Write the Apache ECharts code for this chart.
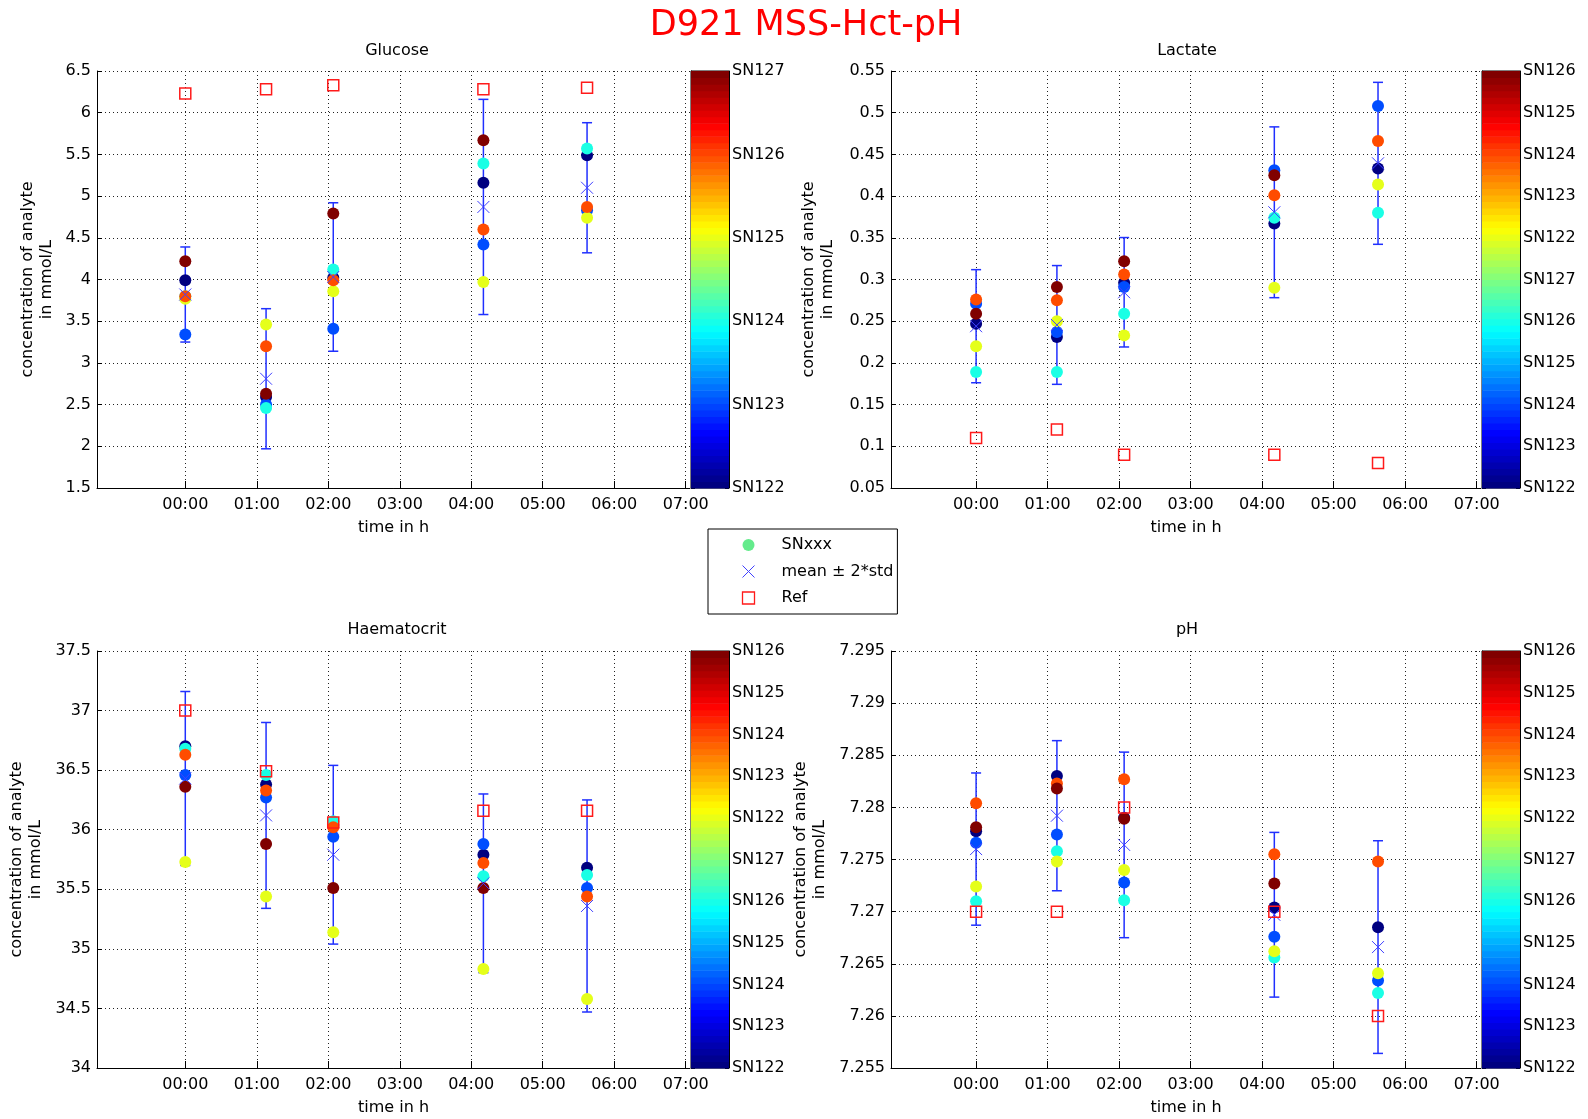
<!DOCTYPE html>
<html>
<head>
<meta charset="utf-8">
<title>D921 MSS-Hct-pH</title>
<script src="https://cdn.jsdelivr.net/npm/echarts@6/dist/echarts.min.js"></script>
<style>
  html, body { margin: 0; padding: 0; background: #fff; }
  #chart { width: 1588px; height: 1119px; }
</style>
</head>
<body>
<div id="chart"></div>
<script>
// Sample times in hours after start
const times = [0, 1.13, 2.07, 4.17, 5.62];
const hourTicks = [0, 1, 2, 3, 4, 5, 6, 7];
const sensors = ['SN122', 'SN123', 'SN124', 'SN125', 'SN126', 'SN127'];

// Rows follow `sensors`, columns follow `times`; null = no reading
const glucoseValues = [
  [3.99, 2.59, 4.02, 5.16, 5.49],
  [3.34, 2.50, 3.41, 4.42, 4.83],
  [3.80, 2.46, 4.12, 5.39, 5.57],
  [3.77, 3.46, 3.86, 3.97, 4.74],
  [3.80, 3.20, 3.99, 4.60, 4.87],
  [4.22, 2.63, 4.79, 5.67, null]
];
const glucoseRef = [6.23, 6.28, 6.33, 6.28, 6.30];
const glucoseMean = [3.82, 2.81, 4.03, 4.87, 5.10];
const glucoseTwoStd = [0.57, 0.84, 0.89, 1.29, 0.78];

const lactateValues = [
  [0.247, 0.231, 0.296, 0.367, 0.433],
  [0.271, 0.237, 0.291, 0.431, 0.508],
  [0.189, 0.189, 0.259, 0.374, 0.380],
  [0.220, 0.250, 0.233, 0.290, 0.414],
  [0.276, 0.275, 0.306, 0.401, 0.466],
  [0.259, 0.291, 0.322, 0.425, null]
];
const lactateRef = [0.11, 0.12, 0.09, 0.09, 0.08];
const lactateMean = [0.2440, 0.2455, 0.2847, 0.3806, 0.4393];
const lactateTwoStd = [0.0678, 0.0712, 0.0656, 0.1024, 0.0971];

const hctValues = [
  [36.70, 36.38, 36.04, 35.79, 35.68],
  [36.46, 36.27, 35.94, 35.88, 35.51],
  [36.68, 36.46, 36.07, 35.61, 35.62],
  [35.73, 35.44, 35.14, 34.83, 34.58],
  [36.63, 36.33, 36.02, 35.72, 35.44],
  [36.36, 35.88, 35.51, 35.51, null]
];
const hctRef = [37.00, 36.49, 36.06, 36.16, 36.16];
const hctMean = [36.43, 36.12, 35.79, 35.55, 35.36];
const hctTwoStd = [0.73, 0.78, 0.75, 0.75, 0.89];

const phValues = [
  [7.2777, 7.2830, 7.2790, 7.2704, 7.2685],
  [7.2766, 7.2774, 7.2728, 7.2676, 7.2634],
  [7.2710, 7.2758, 7.2711, 7.2656, 7.2622],
  [7.2724, 7.2748, 7.2740, 7.2662, 7.2641],
  [7.2804, 7.2823, 7.2827, 7.2755, 7.2748],
  [7.2781, 7.2818, 7.2789, 7.2727, null]
];
const phRef = [7.27, 7.27, 7.28, 7.27, 7.26];
const phMean = [7.2760, 7.2792, 7.2764, 7.2697, 7.2666];
const phTwoStd = [0.0073, 0.0072, 0.0089, 0.0079, 0.0102];

// Colour-bar tick labels, bottom to top
const colorbarTicksGlucose = ['SN122', 'SN123', 'SN124', 'SN125', 'SN126', 'SN127'];
const colorbarTicksOther = ['SN122', 'SN123', 'SN124', 'SN125', 'SN126', 'SN127',
                            'SN122', 'SN123', 'SN124', 'SN125', 'SN126'];

const FONT = '"DejaVu Sans", Verdana, sans-serif';
const TEXT = '#000';
const ERR_BLUE = '#2030ff';
const X_BLUE = '#4040ff';
const REF_RED = '#ff1a1a';
const X_ICON = 'path://M0,0L10,10M10,0L0,10';
const SQUARE_ICON = 'path://M0,0L10,0L10,10L0,10Z';

// MATLAB-style "jet" colormap, x in [0, 1]
function jet(x) {
  const c = v => Math.round(255 * Math.max(0, Math.min(1, v)));
  return 'rgb(' + c(1.5 - Math.abs(4 * x - 3)) + ',' + c(1.5 - Math.abs(4 * x - 2)) + ',' +
         c(1.5 - Math.abs(4 * x - 1)) + ')';
}

const panels = [
  { title: 'Glucose', values: glucoseValues, ref: glucoseRef, mean: glucoseMean, sd2: glucoseTwoStd,
    yMin: 1.5, yMax: 6.5, yStep: 0.5, xMin: -1.235, xMax: 7.06,
    left: 97, top: 71, width: 593, height: 417, nameGap: 41, cbLeft: 691,
    cbTicks: colorbarTicksGlucose, titleX: 397, titleY: 51 },
  { title: 'Lactate', values: lactateValues, ref: lactateRef, mean: lactateMean, sd2: lactateTwoStd,
    yMin: 0.05, yMax: 0.55, yStep: 0.05, xMin: -1.19, xMax: 7.06,
    left: 891, top: 71, width: 590, height: 417, nameGap: 54, cbLeft: 1482,
    cbTicks: colorbarTicksOther, titleX: 1187, titleY: 51 },
  { title: 'Haematocrit', values: hctValues, ref: hctRef, mean: hctMean, sd2: hctTwoStd,
    yMin: 34, yMax: 37.5, yStep: 0.5, xMin: -1.235, xMax: 7.06,
    left: 97, top: 651, width: 593, height: 417, nameGap: 52, cbLeft: 691,
    cbTicks: colorbarTicksOther, titleX: 397, titleY: 630 },
  { title: 'pH', values: phValues, ref: phRef, mean: phMean, sd2: phTwoStd,
    yMin: 7.255, yMax: 7.295, yStep: 0.005, xMin: -1.19, xMax: 7.06,
    left: 891, top: 651, width: 590, height: 417, nameGap: 62, cbLeft: 1482,
    cbTicks: colorbarTicksOther, titleX: 1187, titleY: 630 }
];

const grid = [], xAxis = [], yAxis = [], series = [], graphic = [];
const dotted = { type: [1, 3], color: '#222', width: 1 };
const labelStyle = { fontSize: 16, color: TEXT, fontFamily: FONT };

graphic.push({
  type: 'text', x: 806, y: 26, z: 10,
  style: { text: 'D921 MSS-Hct-pH', fontSize: 35, fontFamily: FONT, fill: '#ff0000',
           align: 'center', verticalAlign: 'middle' }
});

const colorSteps = [];
for (let k = 0; k < 64; k++) colorSteps.push([0.5, (k + 0.5) / 64, k]);

panels.forEach((p, pi) => {
  const gMain = 2 * pi, gBar = 2 * pi + 1;
  const yMain = 3 * pi;

  graphic.push({
    type: 'text', x: p.titleX, y: p.titleY, z: 10,
    style: { text: p.title, fontSize: 16, fontFamily: FONT, fill: TEXT,
             align: 'center', verticalAlign: 'middle' }
  });

  grid.push({ left: p.left, top: p.top, width: p.width, height: p.height });
  grid.push({ left: p.cbLeft, top: p.top, width: 38, height: p.height,
              show: true, borderColor: '#000', borderWidth: 1 });

  xAxis.push({
    type: 'value', gridIndex: gMain, min: p.xMin, max: p.xMax,
    axisLine: { show: true, onZero: false, lineStyle: { color: '#000', width: 1 } },
    axisTick: { show: true, inside: true, length: 7, customValues: hourTicks,
                lineStyle: { color: '#000' } },
    axisLabel: { customValues: hourTicks, margin: 9, ...labelStyle,
                 formatter: v => '0' + Math.round(v) + ':00' },
    splitLine: { show: true, lineStyle: dotted },
    name: 'time in h', nameLocation: 'middle', nameGap: 32,
    nameTextStyle: { ...labelStyle, verticalAlign: 'top' }
  });
  xAxis.push({ type: 'value', gridIndex: gBar, min: 0, max: 1, show: false });

  yAxis.push({
    type: 'value', gridIndex: gMain, min: p.yMin, max: p.yMax, interval: p.yStep,
    axisLine: { show: true, onZero: false, lineStyle: { color: '#000', width: 1 } },
    axisTick: { show: true, inside: true, length: 5, lineStyle: { color: '#000' } },
    axisLabel: { margin: 6, ...labelStyle, formatter: v => String(+v.toFixed(4)) },
    splitLine: { show: true, lineStyle: dotted },
    name: 'concentration of analyte\nin mmol/L', nameLocation: 'middle', nameRotate: 90,
    nameGap: p.nameGap, nameTextStyle: { ...labelStyle, lineHeight: 19 }
  });
  const n = p.cbTicks.length;
  yAxis.push({
    type: 'value', gridIndex: gBar, position: 'right', min: 0, max: 1, interval: 1 / (n - 1),
    axisLine: { show: true, onZero: false, lineStyle: { color: '#000' } },
    axisTick: { show: true, inside: true, length: 4, lineStyle: { color: '#000' } },
    axisLabel: { margin: 3, ...labelStyle,
                 formatter: v => p.cbTicks[Math.round(v * (n - 1))] },
    splitLine: { show: false }
  });
  yAxis.push({
    type: 'value', gridIndex: gBar, position: 'left', min: 0, max: 1, interval: 1 / (n - 1),
    axisLine: { show: true, onZero: false, lineStyle: { color: '#000' } },
    axisTick: { show: true, inside: true, length: 4, lineStyle: { color: '#000' } },
    axisLabel: { show: false }, splitLine: { show: false }
  });

  // individual sensor readings
  sensors.forEach((s, si) => {
    const pts = [];
    times.forEach((t, i) => { if (p.values[si][i] != null) pts.push([t, p.values[si][i]]); });
    series.push({
      type: 'scatter', name: 'SNxxx', xAxisIndex: gMain, yAxisIndex: yMain,
      symbol: 'circle', symbolSize: 12, itemStyle: { color: jet(si / 5), opacity: 1 },
      data: pts, silent: true
    });
  });

  // mean ± 2*std error bars
  series.push({
    type: 'custom', name: 'mean ± 2*std', xAxisIndex: gMain, yAxisIndex: yMain,
    encode: { x: 0, y: 1 }, silent: true,
    data: times.map((t, i) => [t, p.mean[i], p.sd2[i]]),
    renderItem: (params, api) => {
      const x = api.value(0), m = api.value(1), e = api.value(2);
      const a = api.coord([x, m + e]), b = api.coord([x, m - e]);
      const h = 5;
      const st = { stroke: ERR_BLUE, lineWidth: 1.5 };
      return {
        type: 'group',
        children: [
          { type: 'line', shape: { x1: a[0], y1: a[1], x2: b[0], y2: b[1] }, style: st },
          { type: 'line', shape: { x1: a[0] - h, y1: a[1], x2: a[0] + h, y2: a[1] }, style: st },
          { type: 'line', shape: { x1: b[0] - h, y1: b[1], x2: b[0] + h, y2: b[1] }, style: st }
        ]
      };
    }
  });
  series.push({
    type: 'scatter', name: 'mean ± 2*std', xAxisIndex: gMain, yAxisIndex: yMain,
    symbol: X_ICON, symbolSize: 12, silent: true,
    itemStyle: { color: 'none', borderColor: X_BLUE, borderWidth: 1, opacity: 1 },
    data: times.map((t, i) => [t, p.mean[i]])
  });

  // reference analyser
  series.push({
    type: 'scatter', name: 'Ref', xAxisIndex: gMain, yAxisIndex: yMain,
    symbol: 'rect', symbolSize: 11, silent: true,
    itemStyle: { color: 'rgba(0,0,0,0)', borderColor: REF_RED, borderWidth: 1.5, opacity: 1 },
    data: times.map((t, i) => [t, p.ref[i]])
  });

  // colour bar
  series.push({
    type: 'custom', name: 'colormap', xAxisIndex: gBar, yAxisIndex: yMain + 1,
    encode: { x: 0, y: 1 }, silent: true, data: colorSteps,
    renderItem: (params, api) => {
      const k = api.value(2);
      const p0 = api.coord([0, k / 64]), p1 = api.coord([1, (k + 1) / 64]);
      return {
        type: 'rect',
        shape: { x: p0[0], y: p1[1], width: p1[0] - p0[0], height: p0[1] - p1[1] + 0.6 },
        style: { fill: jet(k / 63) }
      };
    }
  });
});

const chart = echarts.init(document.getElementById('chart'), null, { renderer: 'canvas' });
chart.setOption({
  animation: false,
  backgroundColor: '#fff',
  textStyle: { fontFamily: FONT },
  grid, xAxis, yAxis, series, graphic,
  legend: {
    left: 708, top: 529, orient: 'vertical', selectedMode: false,
    backgroundColor: '#fff', borderColor: '#000', borderWidth: 1,
    padding: [8, 4, 8, 32], itemGap: 10, itemWidth: 56, itemHeight: 12,
    textStyle: { fontSize: 16, lineHeight: 16, color: TEXT, fontFamily: FONT },
    data: [
      { name: 'SNxxx', icon: 'circle', itemStyle: { color: '#64eb8c', borderWidth: 0 } },
      { name: 'mean ± 2*std', icon: X_ICON,
        itemStyle: { color: 'none', borderColor: X_BLUE, borderWidth: 1 } },
      { name: 'Ref', icon: SQUARE_ICON,
        itemStyle: { color: 'rgba(0,0,0,0)', borderColor: REF_RED, borderWidth: 1.3 } }
    ]
  }
});
</script>
</body>
</html>
